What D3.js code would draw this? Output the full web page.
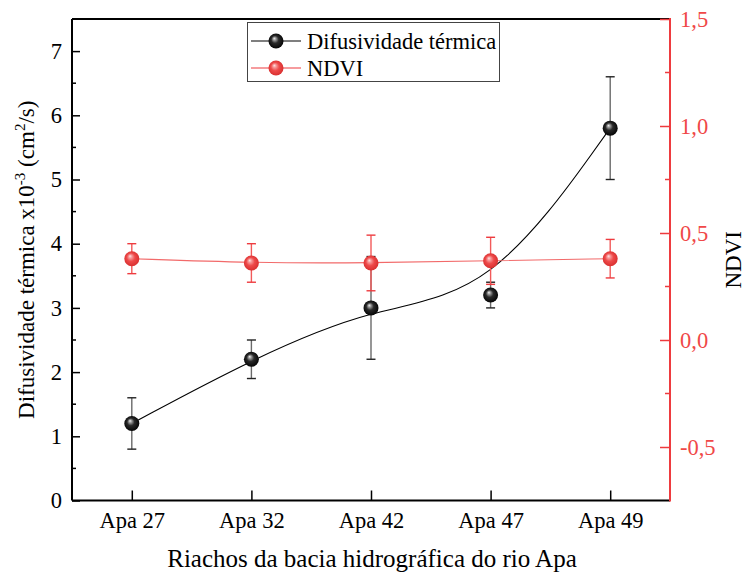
<!DOCTYPE html>
<html>
<head>
<meta charset="utf-8">
<script src="https://cdn.jsdelivr.net/npm/d3@7"></script>
<style>
  html, body { margin: 0; padding: 0; background: #fff; }
  svg, svg text { font-family: "Liberation Serif", "Times New Roman", serif; }
  svg { display: block; }
</style>
</head>
<body>
<svg id="chart" width="747" height="573"></svg>
<script>
// Streams of the Apa river basin
const categories = ["Apa 27", "Apa 32", "Apa 42", "Apa 47", "Apa 49"];
// Thermal diffusivity (x10^-3 cm²/s) and its error
const difusividade = [1.2, 2.2, 3.0, 3.2, 5.8];
const difusividadeErr = [0.4, 0.3, 0.8, 0.2, 0.8];
// NDVI and its error
const ndvi = [0.38, 0.36, 0.36, 0.37, 0.38];
const ndviErr = [0.07, 0.09, 0.13, 0.11, 0.09];
// Axis ticks
const leftTicks = [0, 1, 2, 3, 4, 5, 6, 7];
const leftMinorTicks = [0.5, 1.5, 2.5, 3.5, 4.5, 5.5, 6.5];
const rightTicks = [-0.5, 0, 0.5, 1.0, 1.5];
const rightMinorTicks = [-0.25, 0.25, 0.75, 1.25];
const seriesNames = ["Difusividade térmica", "NDVI"];

const RED = "#ee3b3f";
const RED_TEXT = "#f04848";
const SERIF = "'Liberation Serif', 'Times New Roman', serif";

const svg = d3.select("#chart");
const m = { left: 72, right: 670, top: 19, bottom: 500.5 };

const x = d3.scalePoint().domain(categories).range([m.left, m.right]).padding(0.5);
const yL = d3.scaleLinear().domain([0, 7.5]).range([m.bottom, m.top]);
const yR = d3.scaleLinear().domain([-0.75, 1.5]).range([m.bottom, m.top]);

// Sphere-like marker fills
const defs = svg.append("defs");
function sphere(id, stops) {
  const g = defs.append("radialGradient").attr("id", id)
    .attr("cx", "50%").attr("cy", "50%").attr("r", "55%")
    .attr("fx", "38%").attr("fy", "32%");
  stops.forEach(s => g.append("stop").attr("offset", s[0]).attr("stop-color", s[1]));
}
sphere("ballBlack", [["0%", "#f0f0f0"], ["18%", "#9a9a9a"], ["45%", "#2a2a2a"], ["100%", "#000"]]);
sphere("ballRed", [["0%", "#ffe6e6"], ["20%", "#f79a9a"], ["50%", "#ee4a4a"], ["100%", "#d62c2c"]]);

const fontSize = 22.5;
function styleTickText(g, color) {
  g.attr("font-family", null).attr("font-size", null);
  g.selectAll(".tick text").style("font-family", SERIF).style("font-size", fontSize + "px")
    .attr("fill", color);
}

// bottom axis
const xAxis = d3.axisBottom(x).tickSizeInner(-10).tickSizeOuter(0).tickPadding(12);
const gx = svg.append("g").attr("transform", `translate(0,${m.bottom})`).call(xAxis);
gx.select(".domain").attr("stroke", "#000").attr("stroke-width", 2)
  .attr("d", `M${m.left},0H${m.right}`);
gx.selectAll(".tick line").attr("stroke", "#000").attr("stroke-width", 1.5);
styleTickText(gx, "#000");

// top frame
svg.append("line").attr("x1", m.left).attr("x2", m.right).attr("y1", m.top).attr("y2", m.top)
  .attr("stroke", "#000").attr("stroke-width", 2);

// left axis
const yAxisL = d3.axisLeft(yL).tickValues(leftTicks).tickSizeInner(-8).tickSizeOuter(0)
  .tickPadding(10).tickFormat(d3.format("d"));
const gyl = svg.append("g").attr("transform", `translate(${m.left},0)`).call(yAxisL);
gyl.select(".domain").attr("stroke", "#000").attr("stroke-width", 2)
  .attr("d", `M0,${m.top}V${m.bottom}`);
gyl.selectAll(".tick line").attr("stroke", "#000").attr("stroke-width", 1.5);
styleTickText(gyl, "#000");
gyl.selectAll(".minor").data(leftMinorTicks).join("line").attr("class", "minor")
  .attr("x1", 0).attr("x2", 4).attr("y1", d => yL(d)).attr("y2", d => yL(d))
  .attr("stroke", "#000").attr("stroke-width", 1.5);

// right axis
const yAxisR = d3.axisRight(yR).tickValues(rightTicks).tickSizeInner(-10).tickSizeOuter(0)
  .tickPadding(10).tickFormat(d => d3.format(".1f")(d).replace(".", ",").replace("−", "-"));
const gyr = svg.append("g").attr("transform", `translate(${m.right},0)`).call(yAxisR);
gyr.select(".domain").attr("stroke", RED).attr("stroke-width", 2)
  .attr("d", `M0,${m.top - 1}V${m.bottom + 1}`);
gyr.selectAll(".tick line").attr("stroke", RED).attr("stroke-width", 1.5);
styleTickText(gyr, RED_TEXT);
gyr.selectAll(".minor").data(rightMinorTicks).join("line").attr("class", "minor")
  .attr("x1", 0).attr("x2", -5).attr("y1", d => yR(d)).attr("y2", d => yR(d))
  .attr("stroke", RED).attr("stroke-width", 1.5);

// axis titles
svg.append("text").attr("x", 372).attr("y", 567)
  .attr("text-anchor", "middle").style("font-family", SERIF).style("font-size", "25px")
  .attr("fill", "#000").text("Riachos da bacia hidrográfica do rio Apa");

const yt = svg.append("text").attr("transform", `translate(34,${(m.top + m.bottom) / 2}) rotate(-90)`)
  .attr("text-anchor", "middle").style("font-family", SERIF).style("font-size", "23px").attr("fill", "#000");
yt.append("tspan").text("Difusividade térmica x10");
yt.append("tspan").style("font-size", "15px").attr("dy", -9).text("-3");
yt.append("tspan").attr("dy", 9).text(" (cm");
yt.append("tspan").style("font-size", "15px").attr("dy", -9).text("2");
yt.append("tspan").attr("dy", 9).text("/s)");

svg.append("text").attr("transform", `translate(741,${(m.top + m.bottom) / 2}) rotate(-90)`)
  .attr("text-anchor", "middle").style("font-family", SERIF).style("font-size", "23px")
  .attr("fill", "#000").text("NDVI");

// series drawing
function drawSeries(values, errs, yScale, color, barColor, capColor, ball, lineWidth) {
  const pts = categories.map((c, i) => ({ c, v: values[i], e: errs[i] }));
  const g = svg.append("g");
  g.append("path").datum(pts)
    .attr("fill", "none").attr("stroke", color).attr("stroke-width", lineWidth)
    .attr("d", d3.line().x(d => x(d.c)).y(d => yScale(d.v)).curve(d3.curveBasis));
  const eb = g.selectAll(".eb").data(pts).join("g").attr("class", "eb");
  eb.append("line")
    .attr("x1", d => x(d.c)).attr("x2", d => x(d.c))
    .attr("y1", d => yScale(d.v - d.e)).attr("y2", d => yScale(d.v + d.e))
    .attr("stroke", barColor).attr("stroke-width", 1.4);
  [-1, 1].forEach(s => {
    eb.append("line")
      .attr("x1", d => x(d.c) - 4.5).attr("x2", d => x(d.c) + 4.5)
      .attr("y1", d => yScale(d.v + s * d.e)).attr("y2", d => yScale(d.v + s * d.e))
      .attr("stroke", capColor).attr("stroke-width", 1.4);
  });
  g.selectAll(".ball").data(pts).join("circle").attr("class", "ball")
    .attr("cx", d => x(d.c)).attr("cy", d => yScale(d.v)).attr("r", 7.5)
    .attr("fill", `url(#${ball})`);
}
drawSeries(difusividade, difusividadeErr, yL, "#000", "#6a6a6a", "#222", "ballBlack", 1.1);
drawSeries(ndvi, ndviErr, yR, "#f26a6a", "#f25a5a", RED, "ballRed", 1.1);

// legend
const lg = svg.append("g");
lg.append("rect").attr("x", 247.5).attr("y", 22.5).attr("width", 252).attr("height", 59)
  .attr("fill", "#fff").attr("stroke", "#444").attr("stroke-width", 1);
const legendItems = [
  { name: seriesNames[0], color: "#000", ball: "ballBlack", y: 41 },
  { name: seriesNames[1], color: RED, ball: "ballRed", y: 68 }
];
legendItems.forEach(it => {
  lg.append("line").attr("x1", 251).attr("x2", 301).attr("y1", it.y).attr("y2", it.y)
    .attr("stroke", it.color).attr("stroke-width", 1.2);
  lg.append("circle").attr("cx", 276).attr("cy", it.y).attr("r", 7.5).attr("fill", `url(#${it.ball})`);
  lg.append("text").attr("x", 307).attr("y", it.y).attr("dy", "0.35em")
    .style("font-family", SERIF).style("font-size", fontSize + "px").attr("fill", "#000").text(it.name);
});
</script>
</body>
</html>
